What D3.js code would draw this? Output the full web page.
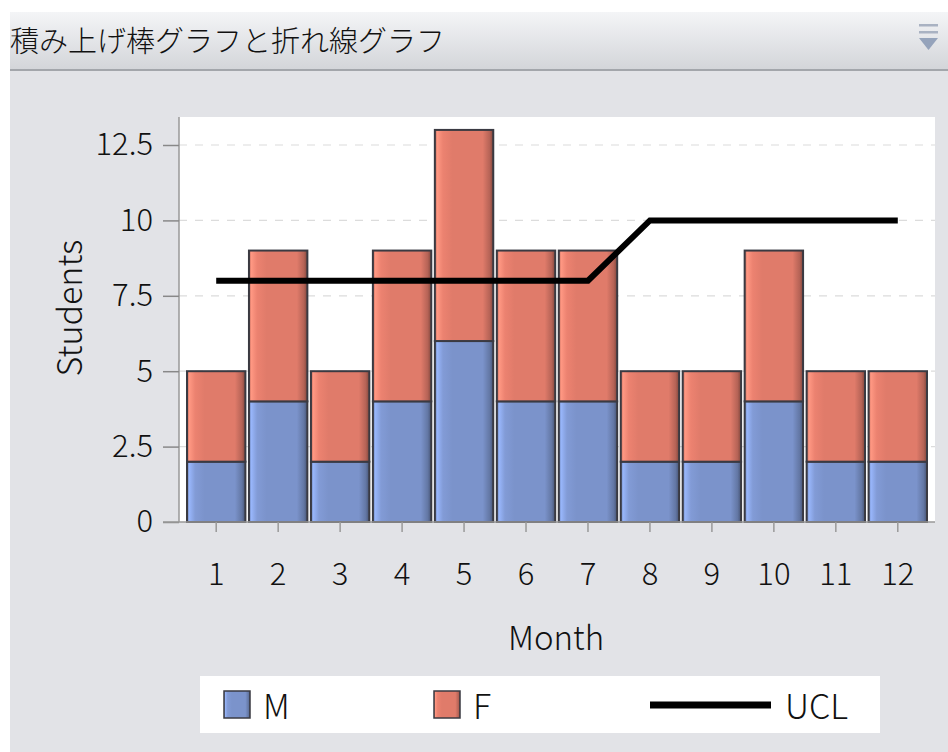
<!DOCTYPE html>
<html>
<head>
<meta charset="utf-8">
<script src="https://cdn.jsdelivr.net/npm/d3@7/dist/d3.min.js"></script>
<style>
  html, body { margin: 0; padding: 0; background: #ffffff; }
  svg { display: block; }
  text { font-family: "Noto Sans CJK JP", "DejaVu Sans", sans-serif; fill: #111; font-weight: 300; }
</style>
</head>
<body>
<svg id="chart" width="948" height="752"></svg>
<script>
// Monthly student counts, stacked by group, with an upper control limit line
const months = ["1","2","3","4","5","6","7","8","9","10","11","12"];
const maleCounts = [2,4,2,4,6,4,4,2,2,4,2,2];
const femaleCounts = [3,5,3,5,7,5,5,3,3,5,3,3];
const uclValues = [8,8,8,8,8,8,8,10,10,10,10,10];
const yTicks = [0,2.5,5,7.5,10,12.5];
const seriesNames = ["M","F"];
const seriesColors = {M: "#7b93cb", F: "#e07b6a"};

const svg = d3.select("#chart");
const W = 948, H = 752;

const defs = svg.append("defs");
const tg = defs.append("linearGradient").attr("id","titleGrad").attr("x1",0).attr("y1",0).attr("x2",0).attr("y2",1);
tg.append("stop").attr("offset","0%").attr("stop-color","#f4f5f7");
tg.append("stop").attr("offset","100%").attr("stop-color","#d3d5d9");

// glossy horizontal shading for bar segments
function barGrad(id, base) {
  const c = d3.color(base);
  const g = defs.append("linearGradient").attr("id", id).attr("x1",0).attr("y1",0).attr("x2",1).attr("y2",0);
  g.append("stop").attr("offset","0%").attr("stop-color", c.darker(0.6));
  g.append("stop").attr("offset","4%").attr("stop-color", c.brighter(0.6));
  g.append("stop").attr("offset","14%").attr("stop-color", c.brighter(0.15));
  g.append("stop").attr("offset","30%").attr("stop-color", base);
  g.append("stop").attr("offset","82%").attr("stop-color", base);
  g.append("stop").attr("offset","94%").attr("stop-color", c.darker(0.6));
  g.append("stop").attr("offset","100%").attr("stop-color", c.darker(1.6));
}
barGrad("gradM", seriesColors.M);
barGrad("gradF", seriesColors.F);

// page background and header strip
svg.append("rect").attr("x",0).attr("y",0).attr("width",W).attr("height",H).attr("fill","#ffffff");
svg.append("rect").attr("x",10).attr("y",70).attr("width",W-10).attr("height",H-70).attr("fill","#e2e3e7");
svg.append("rect").attr("x",10).attr("y",12).attr("width",W-10).attr("height",58).attr("fill","url(#titleGrad)");
svg.append("rect").attr("x",10).attr("y",69).attr("width",W-10).attr("height",2).attr("fill","#a3a6ab");
svg.append("text").attr("x",10).attr("y",52).attr("font-size",29).text("積み上げ棒グラフと折れ線グラフ");

// menu glyph at the right of the header
const menu = svg.append("g").attr("fill","#a9b2c2");
menu.append("rect").attr("x",919).attr("y",24).attr("width",19).attr("height",2.5);
menu.append("rect").attr("x",919).attr("y",31).attr("width",19).attr("height",2.5);
menu.append("path").attr("d","M919,38 L938,38 L928.5,50 Z").attr("fill","#95a3bb");

// plot geometry
const plot = {left: 179, right: 935, top: 117, bottom: 522};
svg.append("rect").attr("x",plot.left).attr("y",plot.top)
  .attr("width",plot.right-plot.left).attr("height",plot.bottom-plot.top).attr("fill","#ffffff");

const x = d3.scaleBand().domain(months).range([186, 928]).paddingInner(0.025).paddingOuter(0);
const y = d3.scaleLinear().domain([0,12.5]).range([plot.bottom, 145]);

// dashed gridlines
svg.append("g").selectAll("line").data(yTicks.filter(d => d > 0)).join("line")
  .attr("x1", plot.left).attr("x2", plot.right)
  .attr("y1", d => y(d)).attr("y2", d => y(d))
  .attr("stroke","#dcdcdc").attr("stroke-width",1.2).attr("stroke-dasharray","8,8");

// stacked bars
const rows = months.map((m,i) => ({month: m, M: maleCounts[i], F: femaleCounts[i]}));
const stacked = d3.stack().keys(seriesNames)(rows);
svg.append("g").selectAll("g").data(stacked).join("g")
  .attr("fill", s => `url(#grad${s.key})`)
  .selectAll("rect").data(s => s).join("rect")
  .attr("x", d => x(d.data.month) + 1)
  .attr("y", d => y(d[1]))
  .attr("width", x.bandwidth() - 2)
  .attr("height", d => y(d[0]) - y(d[1]))
  .attr("stroke", "#3a3a42").attr("stroke-width", 2);

// UCL line
const line = d3.line().x((d,i) => x(months[i]) + x.bandwidth()/2).y(d => y(d));
svg.append("path").datum(uclValues).attr("d", line)
  .attr("fill","none").attr("stroke","#000").attr("stroke-width",6)
  .attr("stroke-linejoin","miter").attr("stroke-linecap","butt");

// y axis
const yAxis = svg.append("g").attr("transform", `translate(${plot.left},0)`)
  .call(d3.axisLeft(y).tickValues(yTicks).tickSize(16).tickPadding(10).tickFormat(d3.format("~g")));
yAxis.select(".domain").attr("d", `M0,${plot.top}V${plot.bottom}`).attr("stroke","#999").attr("stroke-width",1.5);
yAxis.selectAll(".tick line").attr("stroke","#888").attr("stroke-width",1.5);
yAxis.selectAll(".tick text").attr("font-size",31).attr("fill","#111")
  .attr("font-family","'Noto Sans CJK JP', sans-serif").attr("font-weight",300);

// x axis
const xAxis = svg.append("g").attr("transform", `translate(0,${plot.bottom})`)
  .call(d3.axisBottom(x).tickSize(10).tickPadding(31));
xAxis.select(".domain").attr("d", `M${plot.left - 16},0H${plot.right}`).attr("stroke","#999").attr("stroke-width",1.5);
xAxis.selectAll(".tick line").attr("stroke","#999").attr("stroke-width",1.5);
xAxis.selectAll(".tick text").attr("font-size",31).attr("fill","#111")
  .attr("font-family","'Noto Sans CJK JP', sans-serif").attr("font-weight",300);

// axis titles
svg.append("text").attr("transform","translate(82,308) rotate(-90)").attr("text-anchor","middle")
  .attr("font-size",34).text("Students");
svg.append("text").attr("x",556).attr("y",650).attr("text-anchor","middle")
  .attr("font-size",33).text("Month");

// legend
const lg = svg.append("g");
lg.append("rect").attr("x",200).attr("y",676).attr("width",680).attr("height",57).attr("fill","#ffffff");
const legendItems = [
  {name: "M", x: 224},
  {name: "F", x: 434}
];
legendItems.forEach(it => {
  lg.append("rect").attr("x", it.x).attr("y", 691).attr("width", 26).attr("height", 27)
    .attr("fill", `url(#grad${it.name})`).attr("stroke","#3a3a42").attr("stroke-width",1.5);
  lg.append("text").attr("x", it.x + 39).attr("y", 719).attr("font-size",34).text(it.name);
});
lg.append("line").attr("x1",650).attr("x2",771).attr("y1",705).attr("y2",705)
  .attr("stroke","#000").attr("stroke-width",7);
lg.append("text").attr("x",785).attr("y",719).attr("font-size",34).text("UCL");
</script>
</body>
</html>
